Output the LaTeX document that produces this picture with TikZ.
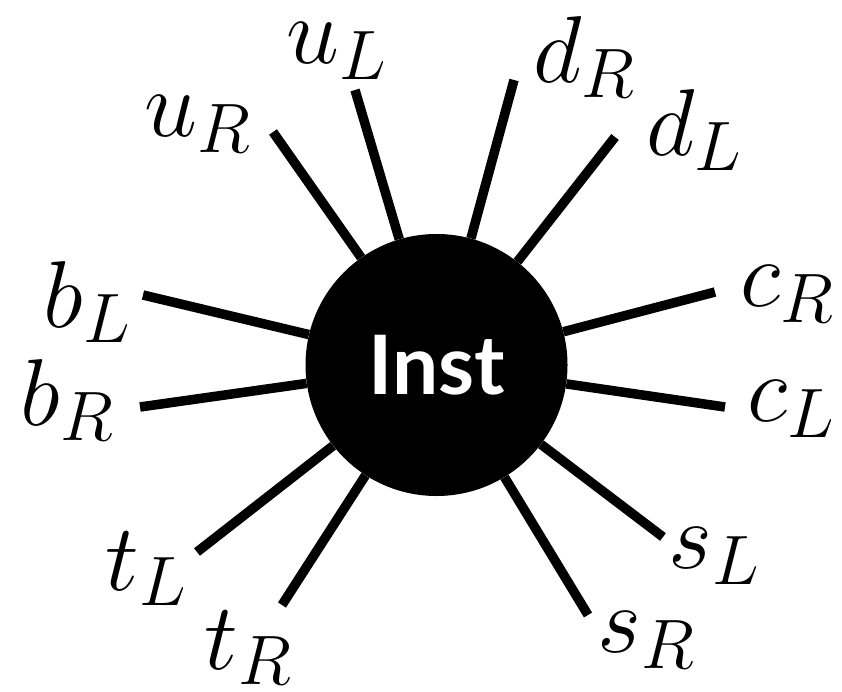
\RequirePackage{fix-cm}
\documentclass[tikz,border=0pt]{standalone}
\usepackage{fontspec}
\newfontfamily\instfont{Lato}
\DeclareMathSizes{95}{95}{70}{50}
\usetikzlibrary{positioning}

\begin{document}
\begin{tikzpicture}[x=1pt, y=-1pt,
    hub/.style={circle, fill=black, text=white, minimum size=262pt, inner sep=0pt,
                font=\instfont\bfseries\fontsize{82}{82}\selectfont},
    spoke/.style={line width=9.5pt},
    port/.style={inner sep=0pt, font=\fontsize{95}{95}\selectfont}
  ]
  \useasboundingbox (0,0) rectangle (842,692);

  % --- instance ---
  \node[hub] (inst) at (436.5,365) {Inst};

  % --- ports: spoke end / label centre ---
  \foreach \n/\ex/\ey/\lx/\ly/\lab in {
      uR/273/132/198/124/u_R, uL/355/90/337/51/u_L,
      dR/514/80/584/57/d_R,   dL/615/137/694/130/d_L,
      cR/715/292/787/294/c_R, cL/725/407/791/409/c_L,
      sL/663/537/714/556/s_L, sR/588/615/646/640/s_R,
      tR/282/605/248/648/t_R, tL/197/552/146/569/t_L,
      bR/140/407/67/400/b_R,  bL/143/295/87/302/b_L} {
      \coordinate (\n end) at (\ex,\ey);
      \node[port] (\n) at (\lx,\ly) {$\lab$};
      \draw[spoke] (inst) -- (\n end);
  }
\end{tikzpicture}
\end{document}
